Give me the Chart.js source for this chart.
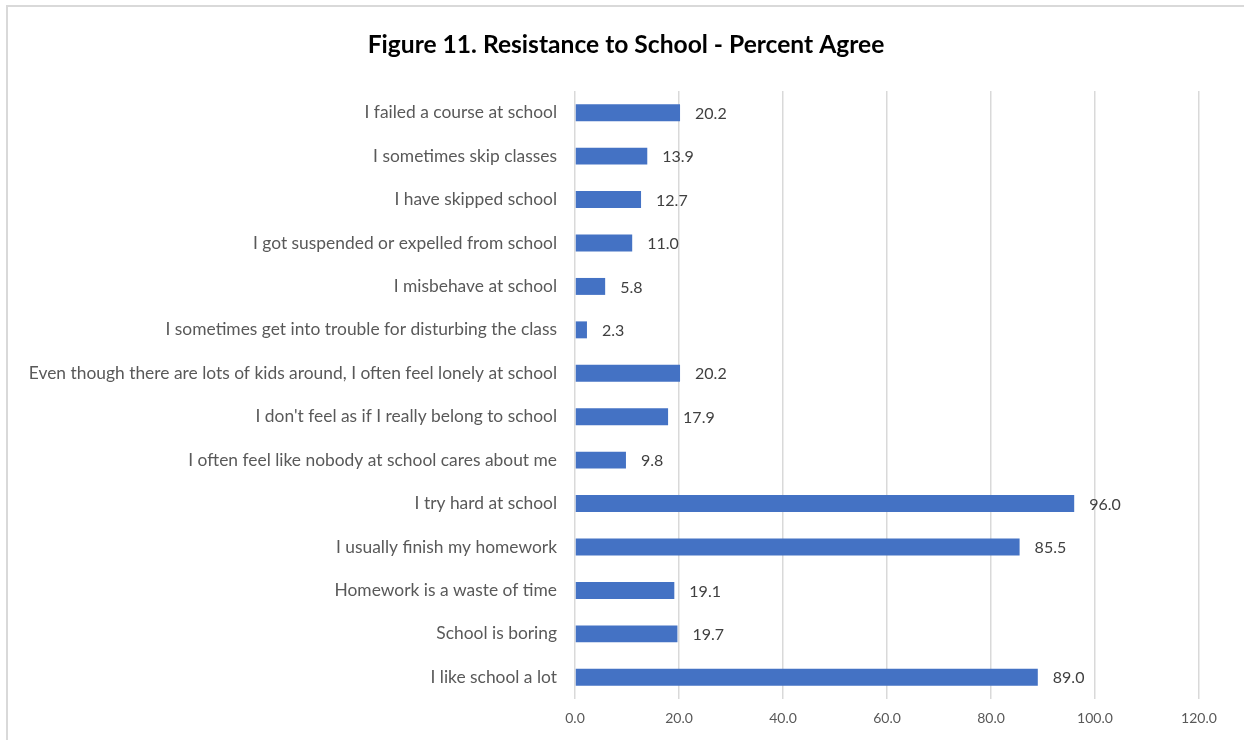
<!DOCTYPE html>
<html>
<head>
<meta charset="utf-8">
<title>Resistance to School</title>
<script src="https://cdn.jsdelivr.net/npm/chart.js@4.4.1/dist/chart.umd.min.js"></script>
<style>
    html, body { margin: 0; padding: 0; background: #fff; overflow: hidden; }
    #wrap { position: relative; width: 1244px; height: 740px; }
    #frame {
        position: absolute; left: 6px; top: 5px;
        width: 1400px; height: 900px;
        border: 2px solid #d9d9d9; box-sizing: border-box;
    }
    #chart { position: absolute; left: 0; top: 0; }
</style>
</head>
<body>
<div id="wrap">
    <div id="frame"></div>
    <canvas id="chart" width="1244" height="740"></canvas>
</div>
<script>
const TITLE = 'Figure 11. Resistance to School - Percent Agree';

const statements = [
    'I failed a course at school',
    'I sometimes skip classes',
    'I have skipped school',
    'I got suspended or expelled from school',
    'I misbehave at school',
    'I sometimes get into trouble for disturbing the class',
    'Even though there are lots of kids around, I often feel lonely at school',
    "I don't feel as if I really belong to school",
    'I often feel like nobody at school cares about me',
    'I try hard at school',
    'I usually finish my homework',
    'Homework is a waste of time',
    'School is boring',
    'I like school a lot'
];

const percentAgree = [20.2, 13.9, 12.7, 11.0, 5.8, 2.3, 20.2, 17.9, 9.8, 96.0, 85.5, 19.1, 19.7, 89.0];

const axisMin = 0;
const axisMax = 120;
const axisStep = 20;

const FONT = 'Lato, "Open Sans", sans-serif';

// writes each value just past the end of its bar
const valueLabels = {
    id: 'valueLabels',
    afterDatasetsDraw(chart) {
        const ctx = chart.ctx;
        const meta = chart.getDatasetMeta(0);
        ctx.save();
        ctx.font = '16px ' + FONT;
        ctx.fillStyle = '#404040';
        ctx.textAlign = 'left';
        ctx.textBaseline = 'middle';
        meta.data.forEach((bar, i) => {
            ctx.fillText(percentAgree[i].toFixed(1), bar.x + 15, bar.y + 1);
        });
        ctx.restore();
    }
};

// heading centred on the whole canvas rather than on the padded box
const centredTitle = {
    id: 'centredTitle',
    afterDraw(chart) {
        const ctx = chart.ctx;
        ctx.save();
        ctx.font = 'bold 24.6px ' + FONT;
        ctx.fillStyle = '#000';
        ctx.textAlign = 'center';
        ctx.textBaseline = 'middle';
        ctx.fillText(TITLE, chart.width / 2 + 4, 45);
        ctx.restore();
    }
};

const ctx = document.getElementById('chart').getContext('2d');
new Chart(ctx, {
    type: 'bar',
    data: {
        labels: statements,
        datasets: [{
            data: percentAgree,
            backgroundColor: '#4472C4',
            borderWidth: 0,
            categoryPercentage: 1,
            barPercentage: 0.39
        }]
    },
    options: {
        indexAxis: 'y',
        responsive: false,
        animation: false,
        layout: { padding: { left: 10, right: 45, top: 91, bottom: 0 } },
        plugins: {
            legend: { display: false },
            tooltip: { enabled: false },
            title: { display: false }
        },
        scales: {
            x: {
                min: axisMin,
                max: axisMax,
                ticks: {
                    stepSize: axisStep,
                    color: '#595959',
                    font: { family: FONT, size: 14 },
                    padding: 11,
                    callback: v => v.toFixed(1)
                },
                grid: { color: '#d9d9d9', lineWidth: 1.5, drawTicks: false },
                border: { display: false },
                afterFit(scale) { scale.height = 41; }
            },
            y: {
                ticks: {
                    color: '#595959',
                    font: { family: FONT, size: 17.4 },
                    padding: 18,
                    autoSkip: false
                },
                grid: { display: false, drawTicks: false },
                border: { display: false },
                afterFit(scale) { scale.width = 565; }
            }
        }
    },
    plugins: [valueLabels, centredTitle]
});
</script>
</body>
</html>
